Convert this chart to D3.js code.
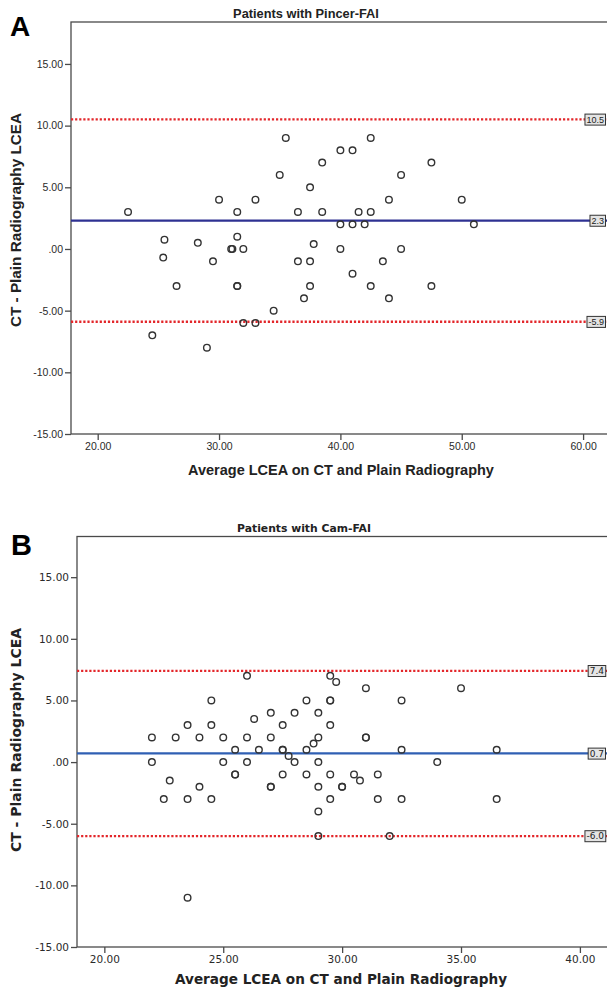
<!DOCTYPE html>
<html>
<head>
<meta charset="utf-8">
<script src="https://cdn.jsdelivr.net/npm/d3@7"></script>
<style>
  body { margin: 0; background: #fff; }
  svg { display: block; }
</style>
</head>
<body>
<div id="chart"></div>
<script>
// panel A - pincer FAI (average LCEA / CT minus plain radiography)
var pincerAvg  = [22.5, 25.5, 25.4, 24.5, 26.5, 28.25, 29, 29.5, 30, 31, 31.1, 31.5, 31.5, 31.5, 31.5, 32, 32, 33, 33, 34.5,
                  35, 35.5, 36.5, 36.5, 37, 37.5, 37.5, 37.5, 37.8, 38.5, 38.5, 40, 40, 40, 41, 41, 41, 41.5, 42, 42.5,
                  42.5, 42.5, 43.5, 44, 44, 45, 45, 47.5, 47.5, 50, 51];
var pincerDiff = [3, 0.75, -0.7, -7, -3, 0.5, -8, -1, 4, 0, 0, 3, 1, -3, -3, 0, -6, 4, -6, -5,
                  6, 9, 3, -1, -4, 5, -1, -3, 0.4, 7, 3, 8, 2, 0, 8, 2, -2, 3, 2, 9,
                  3, -3, -1, 4, -4, 6, 0, 7, -3, 4, 2];
var pincerLines = [10.5, 2.3, -5.9];          // upper limit, mean, lower limit
var pincerLineLabels = ["10.5", "2.3", "-5.9"];
var pincerXTicks = [20, 30, 40, 50, 60];

// panel B - cam FAI
var camAvg  = [26, 29.5, 29.75, 31, 35, 24.5, 28.5, 29.5, 29.5, 32.5, 27, 28, 29, 26.3, 23.5, 24.5, 27.5, 29.5,
               22, 23, 24, 25, 26, 27, 29, 31, 31, 28.8, 25.5, 26.5, 27.5, 27.5, 28.5, 32.5, 36.5, 27.75,
               22, 25, 26, 28, 29, 34, 25.5, 25.5, 27.5, 28.5, 29.5, 30.5, 31.5, 22.75, 30.75,
               24, 27, 27, 29, 30, 30, 22.5, 23.5, 24.5, 29.5, 31.5, 32.5, 36.5, 29, 29, 32, 23.5];
var camDiff = [7, 7, 6.5, 6, 6, 5, 5, 5, 5, 5, 4, 4, 4, 3.5, 3, 3, 3, 3,
               2, 2, 2, 2, 2, 2, 2, 2, 2, 1.5, 1, 1, 1, 1, 1, 1, 1, 0.5,
               0, 0, 0, 0, 0, 0, -1, -1, -1, -1, -1, -1, -1, -1.5, -1.5,
               -2, -2, -2, -2, -2, -2, -3, -3, -3, -3, -3, -3, -3, -4, -6, -6, -11];
var camLines = [7.4, 0.7, -6.0];
var camLineLabels = ["7.4", "0.7", "-6.0"];
var camXTicks = [20, 25, 30, 35, 40];

var yTicks = [-15, -10, -5, 0, 5, 10, 15];

// plain hyphen for negatives, and SPSS style ".00" instead of "0.00"
var locale = d3.formatLocale({decimal: ".", thousands: ",", grouping: [3], currency: ["", ""], minus: "-"});
function fmt(v) {
    return locale.format(".2f")(v).replace(/^0\./, ".");
}

var svg = d3.select("#chart")
    .append("svg")
    .attr("width", 607)
    .attr("height", 994);

function drawPanel(p) {
    var x = d3.scaleLinear().domain(p.xDomain).range([p.left, p.right]);
    var y = d3.scaleLinear().domain(p.yDomain).range([p.bottom, p.top]);
    var g = svg.append("g").style("font-family", p.font);

    // frame
    g.append("rect")
        .attr("x", p.left).attr("y", p.top)
        .attr("width", p.right - p.left).attr("height", p.bottom - p.top)
        .attr("fill", "none").attr("stroke", "#4a4a4a").attr("stroke-width", 1.3);

    var yAxis = g.append("g")
        .attr("transform", "translate(" + p.left + ",0)")
        .call(d3.axisLeft(y).tickValues(yTicks).tickFormat(fmt).tickSize(6).tickPadding(2));
    var xAxis = g.append("g")
        .attr("transform", "translate(0," + p.bottom + ")")
        .call(d3.axisBottom(x).tickValues(p.xTicks).tickFormat(fmt).tickSize(6).tickPadding(3));
    [yAxis, xAxis].forEach(function(a) {
        a.select(".domain").remove();
        a.selectAll("line").attr("stroke", "#4a4a4a").attr("stroke-width", 1.3);
        a.selectAll("text").attr("fill", "#2a2a2a").style("font-size", p.tickSize + "px").style("font-family", p.font);
    });

    // reference lines (limits dotted red, mean solid blue)
    g.selectAll(".ref")
        .data(p.lines)
        .enter().append("line")
        .attr("x1", p.left).attr("x2", p.right)
        .attr("y1", function(d) { return y(d); })
        .attr("y2", function(d) { return y(d); })
        .attr("stroke", function(d, i) { return i == 1 ? p.meanColor : "#e3262a"; })
        .attr("stroke-width", function(d, i) { return i == 1 ? 2.2 : 2.3; })
        .attr("stroke-dasharray", function(d, i) { return i == 1 ? null : "2.2,1.9"; });

    // points
    g.selectAll(".pt")
        .data(p.avg)
        .enter().append("circle")
        .attr("cx", function(d) { return x(d); })
        .attr("cy", function(d, i) { return y(p.diff[i]); })
        .attr("r", 3.3)
        .attr("fill", "none")
        .attr("stroke", "#333")
        .attr("stroke-width", 1.4);

    // value boxes at the right end of each line
    p.lines.forEach(function(v, i) {
        var lab = g.append("g");
        var t = lab.append("text")
            .attr("x", 604)
            .attr("y", y(v))
            .attr("dy", "0.35em")
            .attr("text-anchor", "end")
            .style("font-size", p.boxSize + "px")
            .attr("fill", "#222")
            .text(p.lineLabels[i]);
        var bb = t.node().getBBox();
        lab.insert("rect", "text")
            .attr("x", bb.x - 1.5).attr("y", bb.y - 0.5)
            .attr("width", bb.width + 3).attr("height", bb.height + 1)
            .attr("fill", "#e4e4e4").attr("stroke", "#333").attr("stroke-width", 1);
    });

    // titles
    g.append("text")
        .attr("x", p.letterX).attr("y", p.letterY)
        .style("font-family", "'Liberation Sans', Arial, sans-serif")
        .style("font-size", p.letterSize + "px").style("font-weight", "bold")
        .text(p.letter);
    g.append("text")
        .attr("x", p.titleX).attr("y", p.titleY)
        .attr("text-anchor", "middle")
        .style("font-size", p.titleSize + "px").style("font-weight", "bold")
        .attr("fill", "#222")
        .text(p.title);
    g.append("text")
        .attr("x", p.xTitleX).attr("y", p.xTitleY)
        .attr("text-anchor", "middle")
        .style("font-size", p.axisTitleSize + "px").style("font-weight", "bold")
        .attr("fill", "#222")
        .text("Average LCEA on CT and Plain Radiography");
    g.append("text")
        .attr("transform", "translate(" + p.yTitleX + "," + p.yTitleY + ") rotate(-90)")
        .attr("text-anchor", "middle")
        .style("font-size", p.yTitleSize + "px").style("font-weight", "bold")
        .attr("fill", "#222")
        .text("CT - Plain Radiography LCEA");
}

drawPanel({
    avg: pincerAvg, diff: pincerDiff, lines: pincerLines, lineLabels: pincerLineLabels, xTicks: pincerXTicks,
    xDomain: [17.8, 62.3], yDomain: [-15, 18.4],
    left: 71, right: 611, top: 22, bottom: 434,
    font: "'Liberation Sans', Arial, sans-serif", tickSize: 10.5, boxSize: 9,
    meanColor: "#2e3192",
    letter: "A", letterX: 10, letterY: 36, letterSize: 28,
    title: "Patients with Pincer-FAI", titleX: 306, titleY: 18, titleSize: 12.8,
    xTitleX: 341, xTitleY: 475, axisTitleSize: 14.5,
    yTitleX: 21, yTitleY: 220, yTitleSize: 15.3
});

drawPanel({
    avg: camAvg, diff: camDiff, lines: camLines, lineLabels: camLineLabels, xTicks: camXTicks,
    xDomain: [18.85, 41.35], yDomain: [-15, 18.3],
    left: 77, right: 612, top: 536.5, bottom: 947,
    font: "'DejaVu Sans', Verdana, sans-serif", tickSize: 10.5, boxSize: 9,
    meanColor: "#2f5fb3",
    letter: "B", letterX: 11, letterY: 555, letterSize: 29,
    title: "Patients with Cam-FAI", titleX: 304, titleY: 532, titleSize: 10.8,
    xTitleX: 341, xTitleY: 984, axisTitleSize: 13.6,
    yTitleX: 21, yTitleY: 740, yTitleSize: 14
});
</script>
</body>
</html>
